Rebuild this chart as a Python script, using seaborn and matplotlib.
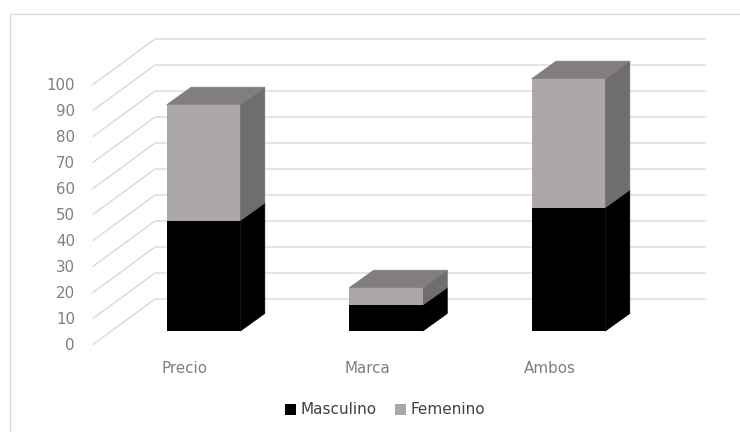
import matplotlib
matplotlib.use("Agg")
import matplotlib.pyplot as plt
from matplotlib.lines import Line2D
from matplotlib.patches import Polygon
import numpy as np
import seaborn as sns

categories = ["Precio", "Marca", "Ambos"]
masculino = [42.5, 10.0, 47.5]
femenino = [44.5, 6.6, 49.5]
axis_ticks = list(range(0, 101, 10))

BLACK = "#000000"
FRONT = "#aca8a7"
TOP = "#827e7d"
SIDE = "#6f6d6d"
GRID = "#d9d9d9"
TICK_TEXT = "#7f7f7f"
LEGEND_TEXT = "#404040"

# Fake 3D projection, expressed in axis units
BAR_WIDTH = 0.403
DEPTH_X = 0.134
DEPTH_Y = 6.75
WALL_SHIFT = 12.31
FRONT_SHIFT = 5.19
LEFT_X = -0.6055
RIGHT_X = 2.748
BACK_X = -0.2658

sns.set_theme(style="white")
plt.rcParams["font.family"] = ["DejaVu Sans"]
fig = plt.figure(figsize=(7.4, 4.32), dpi=100, facecolor="white")
ax = fig.add_axes([93 / 740, 1 - 355 / 432, (705 - 93) / 740, (355 - 30) / 432])
ax.patch.set_alpha(0)

# Chart-area outline on the top and left only
fig.add_artist(Line2D([9.5 / 740, 9.5 / 740, 1], [0, 1 - 13.5 / 432, 1 - 13.5 / 432],
                      color="#dcdcdc", lw=1.0))

# Back wall and left wall gridlines
for tick in axis_ticks:
    y_back = tick + WALL_SHIFT
    y_front = tick - FRONT_SHIFT
    ax.plot([LEFT_X, BACK_X, RIGHT_X], [y_front, y_back, y_back],
            color=GRID, lw=1.0, zorder=1, clip_on=False, solid_joinstyle="miter")

# Front faces of the stacked columns
sns.barplot(x=categories, y=masculino, color=BLACK, saturation=1, width=BAR_WIDTH,
            linewidth=0, ax=ax, zorder=4, label="Masculino")
sns.barplot(x=categories, y=femenino, bottom=masculino, color=FRONT, saturation=1,
            width=BAR_WIDTH, linewidth=0, ax=ax, zorder=4, label="Femenino")

# Side and top faces of each column, edged in their own colour to close the seams
for i, (low, high) in enumerate(zip(masculino, femenino)):
    right = i + BAR_WIDTH / 2
    left = i - BAR_WIDTH / 2
    total = low + high
    ax.add_patch(Polygon([(right, 0), (right + DEPTH_X, DEPTH_Y),
                          (right + DEPTH_X, low + DEPTH_Y), (right, low)],
                         fc=BLACK, ec=BLACK, lw=0.6, zorder=3))
    ax.add_patch(Polygon([(right, low), (right + DEPTH_X, low + DEPTH_Y),
                          (right + DEPTH_X, total + DEPTH_Y), (right, total)],
                         fc=SIDE, ec=SIDE, lw=0.6, zorder=3))
    ax.add_patch(Polygon([(left, total), (left + DEPTH_X, total + DEPTH_Y),
                          (right + DEPTH_X, total + DEPTH_Y), (right, total)],
                         fc=TOP, ec=TOP, lw=0.6, zorder=3))

ax.set_xlim(LEFT_X, RIGHT_X)
ax.set_ylim(-9.23, 115.77)
sns.despine(ax=ax, left=True, bottom=True)

# Category labels sit slightly left of the column centres
ax.set_xticks(np.arange(len(categories)) - 0.1014, categories)
ax.tick_params(axis="x", length=0, pad=4, labelsize=10.9, labelcolor=TICK_TEXT)
ax.set_yticks([])
ax.set_xlabel("")
ax.set_ylabel("")

# Value scale belongs to the front edge of the floor
scale = ax.secondary_yaxis(0, functions=(lambda v: v + FRONT_SHIFT, lambda v: v - FRONT_SHIFT))
scale.set_yticks(axis_ticks)
scale.tick_params(axis="y", length=0, pad=13, labelsize=10.8, labelcolor=TICK_TEXT)
scale.spines["left"].set_visible(False)

legend = ax.legend(loc="center", bbox_to_anchor=(385 / 740, 1 - 410 / 432),
                   bbox_transform=fig.transFigure, ncol=2, frameon=False, fontsize=11.0,
                   handlelength=0.7, handleheight=0.7, handletextpad=0.28,
                   columnspacing=1.22, labelcolor=LEGEND_TEXT, borderpad=0)

fig.savefig("out.png", dpi=100, facecolor="white")
